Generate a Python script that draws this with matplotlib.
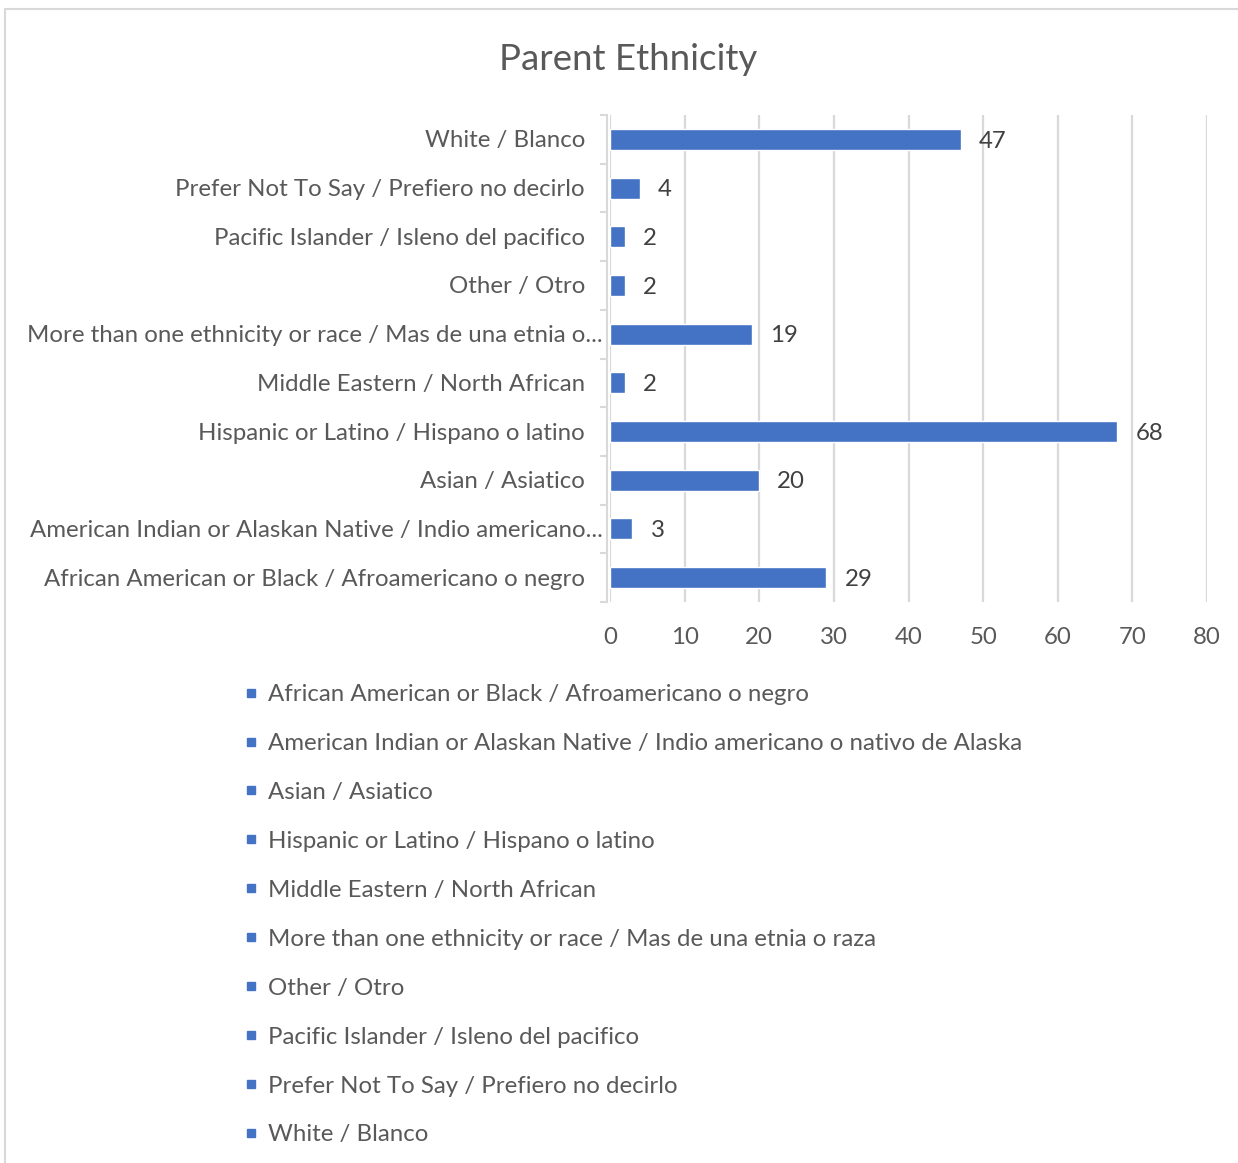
import matplotlib
matplotlib.use("Agg")
import matplotlib.pyplot as plt
from matplotlib.lines import Line2D
from matplotlib.patches import Rectangle
import matplotlib.transforms as mtransforms

categories = [
    "African American or Black / Afroamericano o negro",
    "American Indian or Alaskan Native / Indio americano o nativo de Alaska",
    "Asian / Asiatico",
    "Hispanic or Latino / Hispano o latino",
    "Middle Eastern / North African",
    "More than one ethnicity or race / Mas de una etnia o raza",
    "Other / Otro",
    "Pacific Islander / Isleno del pacifico",
    "Prefer Not To Say / Prefiero no decirlo",
    "White / Blanco",
]
axis_labels = [
    "African American or Black / Afroamericano o negro",
    "American Indian or Alaskan Native / Indio americano...",
    "Asian / Asiatico",
    "Hispanic or Latino / Hispano o latino",
    "Middle Eastern / North African",
    "More than one ethnicity or race / Mas de una etnia o...",
    "Other / Otro",
    "Pacific Islander / Isleno del pacifico",
    "Prefer Not To Say / Prefiero no decirlo",
    "White / Blanco",
]
truncated = [False, True, False, False, False, True, False, False, False, False]
values = [29, 3, 20, 68, 2, 19, 2, 2, 4, 47]
x_ticks = [0, 10, 20, 30, 40, 50, 60, 70, 80]

BLUE = "#4472C4"
GRID = "#d9d9d9"
TXT = "#595959"
FONT = "Lato"
FS = 17.3

plt.rcParams["font.family"] = [FONT, "DejaVu Sans"]

W, H = 1238, 1163
fig = plt.figure(figsize=(W / 100, H / 100), dpi=100)

# chart frame (top and left edges visible)
fig.add_artist(Rectangle((5 / W, -0.05), 1.2, 1 - 9 / H + 0.05,
                         transform=fig.transFigure, fill=False,
                         edgecolor=GRID, linewidth=1.5))

ax = fig.add_axes([610 / W, 1 - 602 / H, (1207 - 610) / W, (602 - 115) / H])
ypos = list(range(len(categories)))
ax.barh(ypos, values, height=0.43, color=BLUE, edgecolor="white",
        linewidth=1.0, zorder=3)
ax.set_xlim(0, 80)
ax.set_ylim(-0.5, len(categories) - 0.5)

ax.set_xticks(x_ticks)
ax.set_xticklabels([str(t) for t in x_ticks], fontsize=FS, color=TXT)
ax.tick_params(axis="x", length=0, pad=18)
ax.grid(axis="x", color=GRID, linewidth=1.6, zorder=0)
ax.set_axisbelow(True)

ax.set_yticks([y - 0.5 for y in range(len(categories) + 1)])
ax.set_yticklabels([])
ax.tick_params(axis="y", length=5, width=1.5, color=GRID, direction="out")

for s in ["top", "right", "bottom"]:
    ax.spines[s].set_visible(False)
ax.spines["left"].set_color(GRID)
ax.spines["left"].set_linewidth(1.5)
ax.spines["left"].set_position(("outward", 2))

ytrans = ax.get_yaxis_transform()
for y, lab, tr in zip(ypos, axis_labels, truncated):
    off = -7 if tr else -25
    t = mtransforms.offset_copy(ytrans, fig=fig, x=off, y=-1.5, units="dots")
    ax.text(0, y, lab, transform=t, ha="right", va="center",
            fontsize=FS, color=TXT)

for y, v in zip(ypos, values):
    ax.annotate(str(v), xy=(v, y), xytext=(13, -1.2), textcoords="offset points",
                ha="left", va="center", fontsize=FS, color="#404040")

fig.text(628 / W, 1 - 59 / H, "Parent Ethnicity", ha="center", va="center",
         fontsize=26.4, color=TXT)

handles = [Line2D([], [], marker="s", linestyle="none", markersize=6,
                  markerfacecolor=BLUE, markeredgecolor=BLUE)
           for _ in categories]
leg = fig.legend(handles, categories, loc="upper left",
                 bbox_to_anchor=(244 / W, 1 - 684 / H),
                 frameon=False, fontsize=FS, labelcolor=TXT,
                 handlelength=0.6, handletextpad=0.4, labelspacing=1.163,
                 borderpad=0, borderaxespad=0)

fig.savefig("out.png", dpi=100)
